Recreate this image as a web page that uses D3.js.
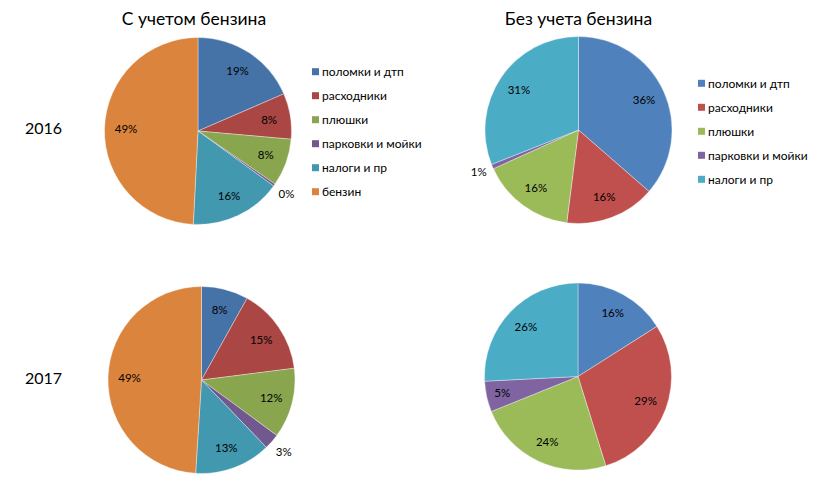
<!DOCTYPE html>
<html><head><meta charset="utf-8">
<script src="https://cdn.jsdelivr.net/npm/d3@7"></script>
<style>body{margin:0;background:#fff}text{font-family:Lato,"Open Sans",sans-serif;fill:#000}</style>
</head><body><svg id="c" width="825" height="484"></svg>
<script>
const categoriesAll = ["поломки и дтп","расходники","плюшки","парковки и мойки","налоги и пр","бензин"];
const categoriesNoFuel = ["поломки и дтп","расходники","плюшки","парковки и мойки","налоги и пр"];
const withFuel2016 = [18.5, 7.9, 8.2, 0.4, 15.8, 49.2];
const noFuel2016 = [36.4, 15.6, 16.2, 0.8, 31.0];
const withFuel2017 = [8.1, 14.9, 12.1, 2.7, 13.2, 49.0];
const noFuel2017 = [16.0, 29.2, 23.7, 5.3, 25.8];
const years = ["2016","2017"];
const titles = ["С учетом бензина","Без учета бензина"];
const colorsLeft = ["#4572A7","#AA4643","#89A54E","#71588F","#4198AF","#DB843D"];
const colorsRight = ["#4F81BD","#C0504D","#9BBB59","#8064A2","#4BACC6"];

const svg = d3.select("#c");
const R = 93.5;

function drawPie(cx, cy, values, cats, colors, labelShift){
  const g = svg.append("g").attr("transform",`translate(${cx},${cy})`);
  const data = values.map((v,i)=>({v, c:cats[i], i}));
  const pie = d3.pie().value(d=>d.v).sort(null);
  const arcs = pie(data);
  const arc = d3.arc().innerRadius(0).outerRadius(R);
  const color = d3.scaleOrdinal().domain(cats).range(colors);
  g.selectAll("path").data(arcs).join("path")
    .attr("d", arc).attr("fill", d=>color(d.data.c))
    .attr("stroke","#fff").attr("stroke-opacity",0.6).attr("stroke-width",0.6);
  const total = d3.sum(values);
  arcs.forEach(a=>{
    const pct = a.data.v/total*100;
    const rr = pct < 1.5 ? R*1.16 : (pct < 3.5 ? R*1.17 : (pct < 6 ? R*0.83 : R*0.77));
    const la = d3.arc().innerRadius(rr).outerRadius(rr);
    const [x,y] = la.centroid(a);
    g.append("text").attr("x",x).attr("y",y).attr("dy","0.35em")
      .attr("text-anchor","middle").style("font-size","11.5px")
      .text(Math.round(pct)+"%");
  });
}

function drawLegend(x, y0, cats, colors){
  const g = svg.append("g");
  const y = d3.scalePoint().domain(cats).range([y0, y0 + 24*(cats.length-1)]);
  cats.forEach((c,i)=>{
    g.append("rect").attr("x",x).attr("y",y(c)-3.5).attr("width",7).attr("height",7).attr("fill",colors[i]);
    g.append("text").attr("x",x+10).attr("y",y(c)).attr("dy","0.35em").style("font-size","12px").text(c);
  });
}

svg.append("text").attr("x",194).attr("y",19).attr("dy","0.35em").attr("text-anchor","middle").style("font-size","17.5px").text(titles[0]);
svg.append("text").attr("x",578.5).attr("y",19).attr("dy","0.35em").attr("text-anchor","middle").style("font-size","17.5px").text(titles[1]);
svg.append("text").attr("x",25).attr("y",128).attr("dy","0.35em").style("font-size","16px").text(years[0]);
svg.append("text").attr("x",25).attr("y",378).attr("dy","0.35em").style("font-size","16px").text(years[1]);

drawPie(198, 131, withFuel2016, categoriesAll, colorsLeft);
drawPie(578.5, 130, noFuel2016, categoriesNoFuel, colorsRight);
drawPie(201.5, 380, withFuel2017, categoriesAll, colorsLeft);
drawPie(578, 376.5, noFuel2017, categoriesNoFuel, colorsRight);

drawLegend(312, 71.7, categoriesAll, colorsLeft);
drawLegend(698, 83.3, categoriesNoFuel, colorsRight);
</script></body></html>
